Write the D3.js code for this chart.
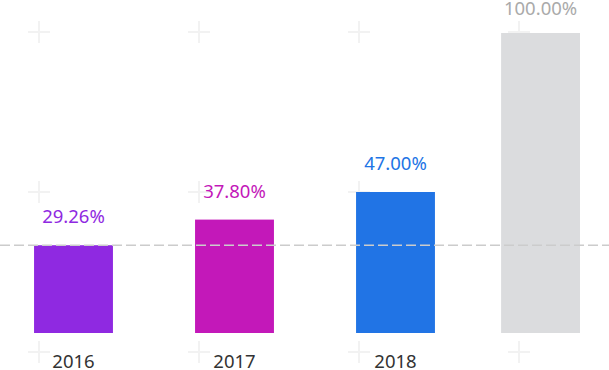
<!DOCTYPE html>
<html>
<head>
<meta charset="utf-8">
<script src="https://cdn.jsdelivr.net/npm/d3@7"></script>
<style>
  body { margin: 0; background: #fff; }
  text { font-family: "Noto Sans", sans-serif; }
</style>
</head>
<body>
<svg></svg>
<script>
const years = ['2016', '2017', '2018'];
const values = [29.26, 37.80, 47.00];
const totalValue = 100;
const colors = ['#8f29e1', '#c318b9', '#2174e5'];
const totalColor = '#dbdcde';

const w = 609, h = 370;
const baseY = 333, topY = 33;

let svg = d3.select('svg')
            .attr('width', w)
            .attr('height', h);

let yScale = d3.scaleLinear()
                .domain([0, 100])
                .range([baseY, topY]);

let xScale = d3.scaleBand()
                .domain(years)
                .range([-7, 476])
                .paddingInner(0.51)
                .paddingOuter(0.255);

let bw = xScale.bandwidth();
let totalX = w - 29 - bw;

// background crosses
let crossX = d3.range(4).map(i => 39 + 160 * i);
let crossY = d3.range(3).map(j => 32 + 160 * j);
let crosses = svg.append('g')
    .attr('stroke', '#f2f2f2')
    .attr('stroke-width', 2);
crossX.forEach(cx => crossY.forEach(cy => {
    crosses.append('line').attr('x1', cx - 11).attr('x2', cx + 11).attr('y1', cy).attr('y2', cy);
    crosses.append('line').attr('x1', cx).attr('x2', cx).attr('y1', cy - 11).attr('y2', cy + 11);
}));

// total bar
svg.append('rect')
    .attr('x', totalX)
    .attr('y', yScale(totalValue))
    .attr('width', bw)
    .attr('height', baseY - yScale(totalValue))
    .style('fill', totalColor);

svg.append('text')
    .attr('x', totalX + bw / 2)
    .attr('y', yScale(totalValue) - 18)
    .attr('text-anchor', 'middle')
    .style('font-size', '18.5px')
    .style('fill', '#aaaaaa')
    .text(totalValue.toFixed(2) + '%');

// year bars
svg.selectAll('rect.bar')
    .data(years)
    .enter()
    .append('rect')
    .attr('class', 'bar')
    .attr('x', d => xScale(d))
    .attr('y', (d, i) => yScale(values[i]))
    .attr('width', bw)
    .attr('height', (d, i) => baseY - yScale(values[i]))
    .style('fill', (d, i) => colors[i]);

svg.selectAll('text.val')
    .data(years)
    .enter()
    .append('text')
    .attr('class', 'val')
    .attr('x', d => xScale(d) + bw / 2)
    .attr('y', (d, i) => yScale(values[i]) - 22)
    .attr('text-anchor', 'middle')
    .style('font-size', '18.5px')
    .style('fill', (d, i) => colors[i])
    .text((d, i) => values[i].toFixed(2) + '%');

svg.selectAll('text.year')
    .data(years)
    .enter()
    .append('text')
    .attr('class', 'year')
    .attr('x', d => xScale(d) + bw / 2)
    .attr('y', 368)
    .attr('text-anchor', 'middle')
    .style('font-size', '18.5px')
    .style('fill', '#333')
    .text(d => d);

// reference line
svg.append('line')
    .attr('x1', 0)
    .attr('x2', w)
    .attr('y1', yScale(values[0]))
    .attr('y2', yScale(values[0]))
    .attr('stroke', '#cccccc')
    .attr('stroke-width', 1.5)
    .attr('stroke-dasharray', '10,4');
</script>
</body>
</html>
